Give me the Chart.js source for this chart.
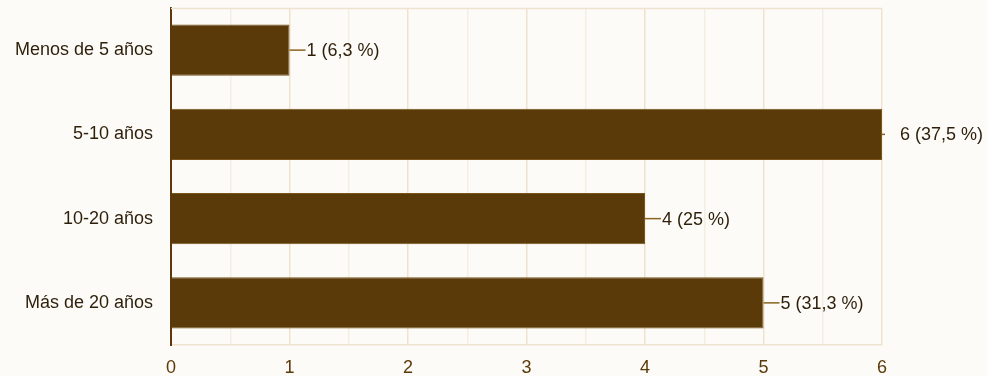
<!DOCTYPE html>
<html>
<head>
<meta charset="utf-8">
<script src="https://cdn.jsdelivr.net/npm/chart.js@4/dist/chart.umd.min.js"></script>
<style>
  html, body { margin: 0; padding: 0; background: #fdfbf8; }
  #wrap { width: 987px; height: 376px; position: relative; }
</style>
</head>
<body>
<div id="wrap"><canvas id="c"></canvas></div>
<script>
// Años de experiencia: respuestas por rango
const categories = ['Menos de 5 años', '5-10 años', '10-20 años', 'Más de 20 años'];
const counts = [1, 6, 4, 5];
const percents = ['6,3', '37,5', '25', '31,3'];
const xTicks = [0, 1, 2, 3, 4, 5, 6];

const BROWN = '#5a3a08';
const TEXT = '#2d1f0a';
const FONT = "'Liberation Sans', Arial, sans-serif";

// Leader line + "n (p %)" label at the end of each bar, plus top frame line
const valueLabels = {
  id: 'valueLabels',
  afterDatasetsDraw(chart) {
    const ctx = chart.ctx;
    const area = chart.chartArea;
    ctx.save();
    ctx.strokeStyle = '#efe3cf';
    ctx.lineWidth = 1.5;
    ctx.beginPath();
    ctx.moveTo(area.left, area.top + 0.5);
    ctx.lineTo(area.right, area.top + 0.5);
    ctx.stroke();

    const meta = chart.getDatasetMeta(0);
    const xMax = chart.scales.x.max;
    ctx.font = '18px ' + FONT;
    ctx.textBaseline = 'middle';
    ctx.textAlign = 'left';
    meta.data.forEach((bar, i) => {
      const atEdge = counts[i] >= xMax;
      const lead = atEdge ? 3 : 16;
      const gap = atEdge ? 18 : 17;
      ctx.strokeStyle = '#8a6420';
      ctx.lineWidth = 1.5;
      ctx.beginPath();
      ctx.moveTo(bar.x, bar.y);
      ctx.lineTo(bar.x + lead, bar.y);
      ctx.stroke();
      ctx.fillStyle = TEXT;
      ctx.fillText(counts[i] + ' (' + percents[i] + ' %)', bar.x + gap, bar.y + 1);
    });
    ctx.restore();
  }
};

new Chart(document.getElementById('c'), {
  type: 'bar',
  data: {
    labels: categories,
    datasets: [{
      data: counts,
      backgroundColor: BROWN,
      borderColor: '#7a5418',
      borderWidth: 1,
      categoryPercentage: 1,
      barPercentage: 0.61
    }]
  },
  options: {
    indexAxis: 'y',
    responsive: true,
    maintainAspectRatio: false,
    animation: false,
    layout: { padding: { left: 0, right: 105, top: 8, bottom: 0 } },
    plugins: { legend: { display: false }, tooltip: { enabled: false } },
    scales: {
      x: {
        min: 0,
        max: 6,
        afterFit(scale) { scale.height = 31; },
        afterBuildTicks(scale) {
          const t = [];
          for (let v = 0; v <= 6; v += 0.5) t.push({ value: v });
          scale.ticks = t;
        },
        ticks: {
          autoSkip: false,
          maxRotation: 0,
          padding: 12,
          color: BROWN,
          font: { family: FONT, size: 18 },
          callback: (v) => xTicks.includes(v) ? String(v) : ''
        },
        grid: {
          drawTicks: false,
          lineWidth: 1.5,
          color: (c) => (c.tick && Number.isInteger(c.tick.value)) ? '#efe3cf' : '#f5eee3'
        },
        border: { display: true, color: '#efe3cf', width: 1.5 }
      },
      y: {
        afterFit(scale) {
          scale.width = 171;
          scale.paddingTop = 0;
          scale.paddingBottom = 0;
        },
        ticks: {
          padding: 18,
          color: TEXT,
          font: { family: FONT, size: 18 }
        },
        grid: { display: false, drawTicks: false },
        border: { display: true, color: '#5a3a0c', width: 2 }
      }
    }
  },
  plugins: [valueLabels]
});
</script>
</body>
</html>
